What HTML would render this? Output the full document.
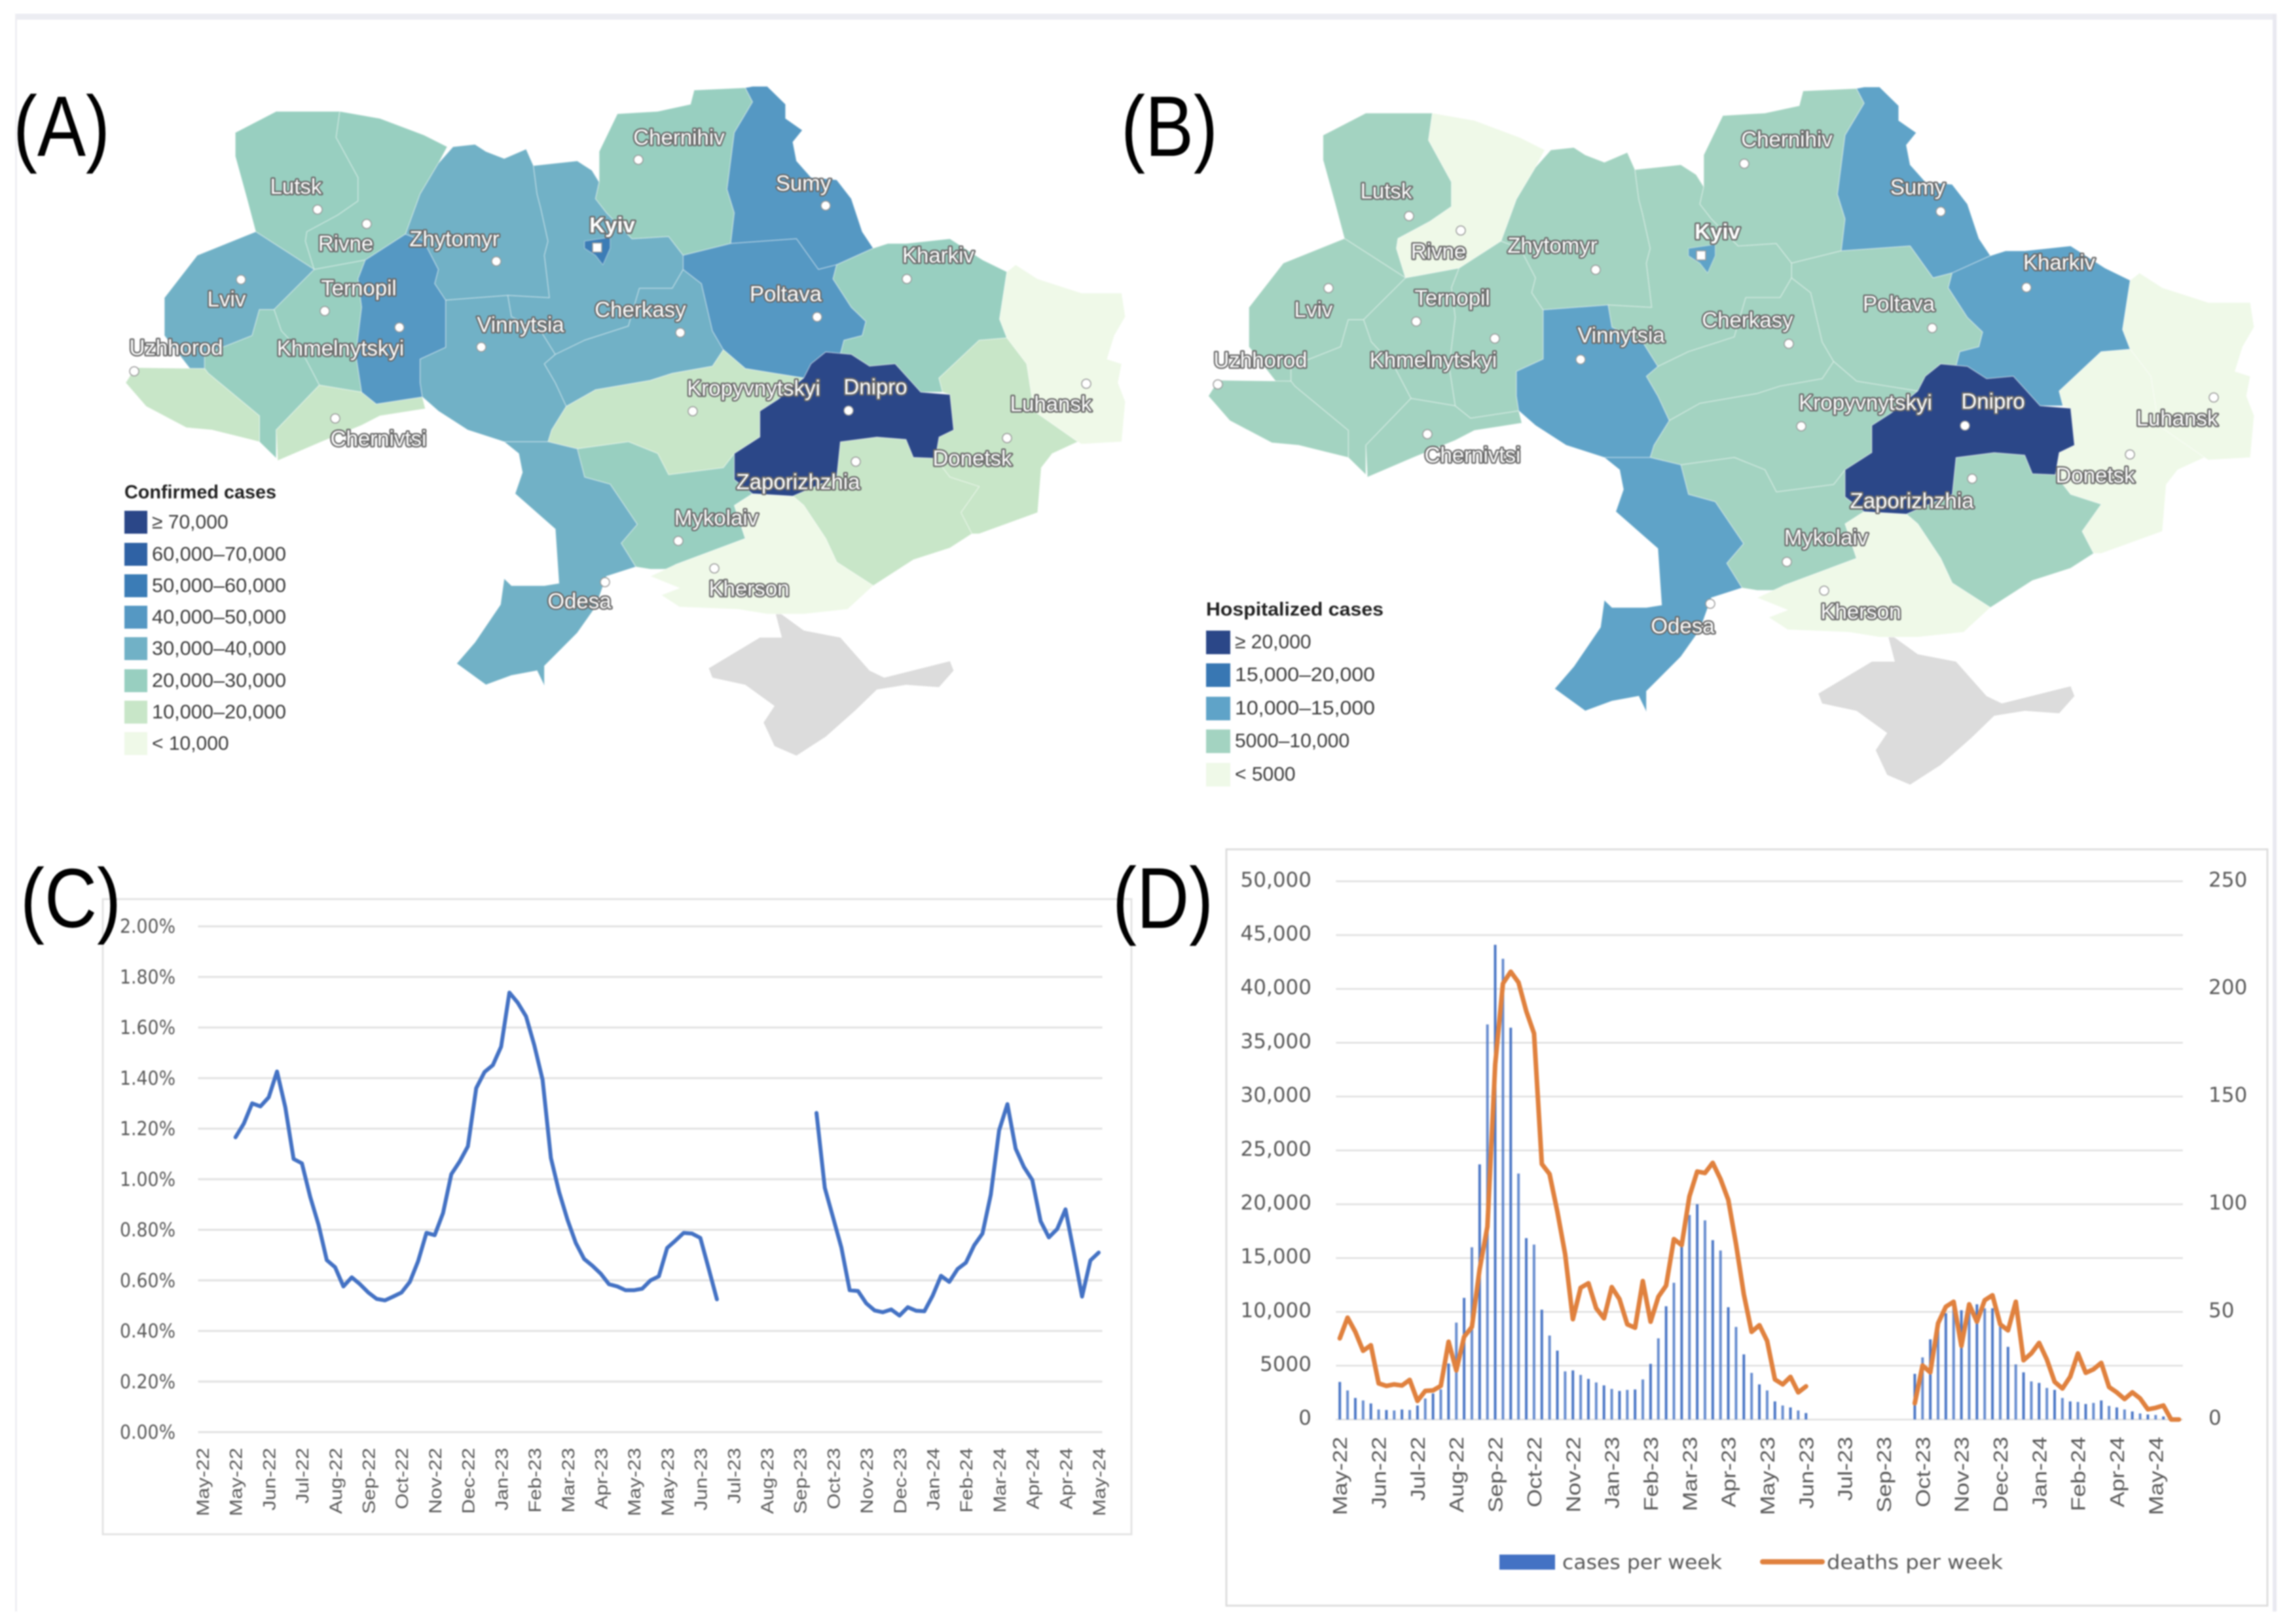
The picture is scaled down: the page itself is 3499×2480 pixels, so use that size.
<!DOCTYPE html>
<html lang="en">
<head>
<meta charset="utf-8">
<title>Ukraine COVID-19 maps and weekly charts</title>
<style>
html,body{margin:0;padding:0;background:#fff}
svg{display:block;filter:blur(1px)}
text{font-family:"Liberation Sans",sans-serif}
.panel{font-size:111px;fill:#000}
.mapl{font-size:33px;fill:#fff;stroke:#6a6a6a;stroke-width:4.5px;paint-order:stroke;text-anchor:middle;stroke-linejoin:round}
.dot{fill:#fff;stroke:#9a9a9a;stroke-width:1.5}
.lt{font-size:30px;fill:#3c3c3c}
.lh{font-size:29px;font-weight:bold;fill:#222}
.wide{font-family:"DejaVu Sans",sans-serif;fill:#595959}
</style>
</head>
<body>
<svg id="figure" xmlns="http://www.w3.org/2000/svg" width="3499" height="2480" viewBox="0 0 3499 2480">
<rect width="3499" height="2480" fill="#fff"/>
<rect x="23" y="21" width="3454" height="9" fill="#ecedf2"/>
<rect x="23" y="21" width="3" height="2440" fill="#eeeef3"/>
<rect x="3471" y="21" width="6" height="2440" fill="#e9e9f0"/>

<g id="map-a">
<g id="map-a-regions" transform="matrix(1.116 0 0 .7207 0 80)"></g>
<g>
<circle class="dot" cx="975" cy="244" r="7"/>
<circle class="dot" cx="1261" cy="314" r="7"/>
<circle class="dot" cx="485" cy="320" r="7"/>
<circle class="dot" cx="560" cy="342" r="7"/>
<circle class="dot" cx="758" cy="399" r="7"/>
<rect class="dot" x="905" y="371" width="14" height="14"/>
<circle class="dot" cx="1385" cy="426" r="7"/>
<circle class="dot" cx="496" cy="475" r="7"/>
<circle class="dot" cx="368" cy="427" r="7"/>
<circle class="dot" cx="1248" cy="484" r="7"/>
<circle class="dot" cx="1039" cy="508" r="7"/>
<circle class="dot" cx="735" cy="530" r="7"/>
<circle class="dot" cx="610" cy="500" r="7"/>
<circle class="dot" cx="205" cy="567" r="7"/>
<circle class="dot" cx="1058" cy="628" r="7"/>
<circle class="dot" cx="1296" cy="627" r="7"/>
<circle class="dot" cx="1659" cy="586" r="7"/>
<circle class="dot" cx="512" cy="639" r="7"/>
<circle class="dot" cx="1538" cy="669" r="7"/>
<circle class="dot" cx="1307" cy="705" r="7"/>
<circle class="dot" cx="1036" cy="826" r="7"/>
<circle class="dot" cx="1091" cy="868" r="7"/>
<circle class="dot" cx="924" cy="889" r="7"/>
</g>
<g>
<text class="mapl" x="1037" y="221">Chernihiv</text>
<text class="mapl" x="1227" y="291">Sumy</text>
<text class="mapl" x="452" y="296">Lutsk</text>
<text class="mapl" x="528" y="383">Rivne</text>
<text class="mapl" x="694" y="376">Zhytomyr</text>
<text class="mapl" x="935" y="355" font-weight="bold">Kyiv</text>
<text class="mapl" x="1433" y="401">Kharkiv</text>
<text class="mapl" x="548" y="451">Ternopil</text>
<text class="mapl" x="346" y="468">Lviv</text>
<text class="mapl" x="1200" y="460">Poltava</text>
<text class="mapl" x="978" y="484">Cherkasy</text>
<text class="mapl" x="795" y="507">Vinnytsia</text>
<text class="mapl" x="520" y="543">Khmelnytskyi</text>
<text class="mapl" x="269" y="542">Uzhhorod</text>
<text class="mapl" x="1151" y="604">Kropyvnytskyi</text>
<text class="mapl" x="1337" y="602">Dnipro</text>
<text class="mapl" x="1605" y="628">Luhansk</text>
<text class="mapl" x="578" y="681">Chernivtsi</text>
<text class="mapl" x="1485" y="711">Donetsk</text>
<text class="mapl" x="1219" y="747">Zaporizhzhia</text>
<text class="mapl" x="1094" y="802">Mykolaiv</text>
<text class="mapl" x="1144" y="910">Kherson</text>
<text class="mapl" x="885" y="929">Odesa</text>
</g>
<g>
<text class="lh" x="190" y="761" textLength="232" lengthAdjust="spacingAndGlyphs">Confirmed cases</text>
<rect x="190" y="780" width="35" height="35" fill="#2b4788"/>
<text class="lt" x="232" y="807">≥ 70,000</text>
<rect x="190" y="829" width="35" height="35" fill="#2f62a5"/>
<text class="lt" x="232" y="856" textLength="205" lengthAdjust="spacingAndGlyphs">60,000–70,000</text>
<rect x="190" y="877" width="35" height="35" fill="#3b7cb6"/>
<text class="lt" x="232" y="904" textLength="205" lengthAdjust="spacingAndGlyphs">50,000–60,000</text>
<rect x="190" y="925" width="35" height="35" fill="#5598c3"/>
<text class="lt" x="232" y="952" textLength="205" lengthAdjust="spacingAndGlyphs">40,000–50,000</text>
<rect x="190" y="973" width="35" height="35" fill="#71b1c6"/>
<text class="lt" x="232" y="1000" textLength="205" lengthAdjust="spacingAndGlyphs">30,000–40,000</text>
<rect x="190" y="1022" width="35" height="35" fill="#98cfc0"/>
<text class="lt" x="232" y="1049" textLength="205" lengthAdjust="spacingAndGlyphs">20,000–30,000</text>
<rect x="190" y="1070" width="35" height="35" fill="#c8e6c8"/>
<text class="lt" x="232" y="1097" textLength="205" lengthAdjust="spacingAndGlyphs">10,000–20,000</text>
<rect x="190" y="1118" width="35" height="35" fill="#eff9e8"/>
<text class="lt" x="232" y="1145">&lt; 10,000</text>
</g>
</g>

<g id="map-b">
<g id="map-b-regions" transform="matrix(1.1674 0 0 .7513 1644.8 78.8)"></g>
<g>
<circle class="dot" cx="2664" cy="250" r="7"/>
<circle class="dot" cx="2964" cy="323" r="7"/>
<circle class="dot" cx="2152" cy="330" r="7"/>
<circle class="dot" cx="2231" cy="352" r="7"/>
<circle class="dot" cx="2437" cy="412" r="7"/>
<rect class="dot" x="2591" y="383" width="14" height="14"/>
<circle class="dot" cx="3095" cy="439" r="7"/>
<circle class="dot" cx="2163" cy="491" r="7"/>
<circle class="dot" cx="2029" cy="440" r="7"/>
<circle class="dot" cx="2951" cy="501" r="7"/>
<circle class="dot" cx="2732" cy="525" r="7"/>
<circle class="dot" cx="2414" cy="549" r="7"/>
<circle class="dot" cx="2283" cy="517" r="7"/>
<circle class="dot" cx="1860" cy="587" r="7"/>
<circle class="dot" cx="2751" cy="651" r="7"/>
<circle class="dot" cx="3001" cy="650" r="7"/>
<circle class="dot" cx="3381" cy="607" r="7"/>
<circle class="dot" cx="2180" cy="663" r="7"/>
<circle class="dot" cx="3253" cy="694" r="7"/>
<circle class="dot" cx="3012" cy="731" r="7"/>
<circle class="dot" cx="2729" cy="858" r="7"/>
<circle class="dot" cx="2786" cy="902" r="7"/>
<circle class="dot" cx="2612" cy="922" r="7"/>
</g>
<g>
<text class="mapl" x="2729" y="224">Chernihiv</text>
<text class="mapl" x="2929" y="297">Sumy</text>
<text class="mapl" x="2117" y="303">Lutsk</text>
<text class="mapl" x="2197" y="395">Rivne</text>
<text class="mapl" x="2371" y="386">Zhytomyr</text>
<text class="mapl" x="2623" y="365" font-weight="bold">Kyiv</text>
<text class="mapl" x="3145" y="412">Kharkiv</text>
<text class="mapl" x="2218" y="466">Ternopil</text>
<text class="mapl" x="2006" y="484">Lviv</text>
<text class="mapl" x="2900" y="475">Poltava</text>
<text class="mapl" x="2669" y="500">Cherkasy</text>
<text class="mapl" x="2476" y="523">Vinnytsia</text>
<text class="mapl" x="2189" y="561">Khmelnytskyi</text>
<text class="mapl" x="1925" y="561">Uzhhorod</text>
<text class="mapl" x="2849" y="626">Kropyvnytskyi</text>
<text class="mapl" x="3044" y="624">Dnipro</text>
<text class="mapl" x="3325" y="650">Luhansk</text>
<text class="mapl" x="2249" y="706">Chernivtsi</text>
<text class="mapl" x="3200" y="737">Donetsk</text>
<text class="mapl" x="2920" y="776">Zaporizhzhia</text>
<text class="mapl" x="2789" y="832">Mykolaiv</text>
<text class="mapl" x="2842" y="945">Kherson</text>
<text class="mapl" x="2570" y="967">Odesa</text>
</g>
<g>
<text class="lh" x="1842" y="940" textLength="271" lengthAdjust="spacingAndGlyphs">Hospitalized cases</text>
<rect x="1842" y="963" width="37" height="36" fill="#2b4788"/>
<text class="lt" x="1886" y="990">≥ 20,000</text>
<rect x="1842" y="1013" width="37" height="36" fill="#3877b3"/>
<text class="lt" x="1886" y="1040" textLength="214" lengthAdjust="spacingAndGlyphs">15,000–20,000</text>
<rect x="1842" y="1064" width="37" height="36" fill="#5fa3c8"/>
<text class="lt" x="1886" y="1091" textLength="214" lengthAdjust="spacingAndGlyphs">10,000–15,000</text>
<rect x="1842" y="1114" width="37" height="36" fill="#a3d3c1"/>
<text class="lt" x="1886" y="1141">5000–10,000</text>
<rect x="1842" y="1165" width="37" height="36" fill="#eff9e8"/>
<text class="lt" x="1886" y="1192">&lt; 5000</text>
</g>
</g>

<rect x="157" y="1373" width="1571" height="970" fill="#fff" stroke="#e4e4e4" stroke-width="3"/>
<g id="chart-c"></g>

<rect x="1873" y="1297" width="1590" height="1155" fill="#fff" stroke="#dedede" stroke-width="3"/>
<g id="chart-d"></g>
<g>
<rect x="2290" y="2374" width="85" height="23" fill="#4472c4"/>
<text class="wide" x="2386" y="2396" font-size="30" textLength="244" lengthAdjust="spacingAndGlyphs">cases per week</text>
<line x1="2692" y1="2385" x2="2783" y2="2385" stroke="#e0813e" stroke-width="8" stroke-linecap="round"/>
<text class="wide" x="2790" y="2396" font-size="30" textLength="269" lengthAdjust="spacingAndGlyphs">deaths per week</text>
</g>

<text class="panel" transform="translate(20 238) scale(1 1.18)">(A)</text>
<text class="panel" transform="translate(1712 238) scale(1 1.18)">(B)</text>
<text class="panel" transform="translate(31 1416) scale(1 1.15)">(C)</text>
<text class="panel" transform="translate(1699 1417) scale(1 1.19)">(D)</text>
</svg>

<script>
/* ---------- chart C data ---------- */
const cCategories = ['May-22','May-22','Jun-22','Jul-22','Aug-22','Sep-22','Oct-22','Nov-22','Dec-22','Jan-23','Feb-23','Mar-23','Apr-23','May-23','May-23','Jun-23','Jul-23','Aug-23','Sep-23','Oct-23','Nov-23','Dec-23','Jan-24','Feb-24','Mar-24','Apr-24','Apr-24','May-24'];
const cTickValues = [0,0.2,0.4,0.6,0.8,1,1.2,1.4,1.6,1.8,2];
const cTickLabels = ['0.00%','0.20%','0.40%','0.60%','0.80%','1.00%','1.20%','1.40%','1.60%','1.80%','2.00%'];
const cPositivity = [null,null,null,null,1.166,1.22,1.30,1.288,1.324,1.426,1.284,1.08,1.063,0.93,0.82,0.68,0.652,0.576,0.612,0.585,0.552,0.527,0.521,0.536,0.552,0.594,0.676,0.788,0.779,0.866,1.02,1.07,1.13,1.36,1.424,1.451,1.524,1.738,1.698,1.644,1.53,1.393,1.084,0.948,0.84,0.748,0.685,0.658,0.627,0.585,0.576,0.561,0.561,0.567,0.6,0.616,0.728,0.757,0.788,0.785,0.768,0.648,0.525,null,null,null,null,null,null,null,null,null,null,null,1.262,0.966,0.848,0.73,0.561,0.558,0.509,0.481,0.474,0.485,0.461,0.494,0.48,0.478,0.54,0.618,0.594,0.645,0.67,0.739,0.785,0.939,1.193,1.297,1.121,1.048,0.997,0.834,0.77,0.803,0.881,0.712,0.536,0.679,0.71];

/* ---------- chart D data ---------- */
const dCategories = ['May-22','Jun-22','Jul-22','Aug-22','Sep-22','Oct-22','Nov-22','Jan-23','Feb-23','Mar-23','Apr-23','May-23','Jun-23','Jul-23','Sep-23','Oct-23','Nov-23','Dec-23','Jan-24','Feb-24','Apr-24','May-24'];
const dLeftTicks = [0,5000,10000,15000,20000,25000,30000,35000,40000,45000,50000];
const dLeftLabels = ['0','5000','10,000','15,000','20,000','25,000','30,000','35,000','40,000','45,000','50,000'];
const dRightTicks = [0,50,100,150,200,250];
const dRightLabels = ['0','50','100','150','200','250'];
const dCases = [3490,2700,2000,1770,1490,930,880,840,930,880,1300,1950,2420,2800,5200,9000,11300,16000,23700,36700,44100,42800,36400,22850,16850,16250,10200,7800,6400,4470,4560,4140,3770,3440,3170,2840,2650,2750,2790,3720,5170,7540,10520,12700,16060,19000,20000,18500,16660,15700,10430,8600,6050,4330,3260,2700,1680,1300,1120,840,600,0,0,0,0,0,0,0,0,0,0,0,0,0,4240,5770,7450,8850,9870,10470,10150,10000,10700,10330,10330,8750,6750,5120,4380,3540,3400,2930,2750,2000,1680,1630,1440,1540,1770,1260,1120,930,745,560,465,420,280,0,0];
const dDeaths = [37.7,47.3,40.7,31.9,34.5,16.8,15.6,16.3,15.8,18.4,8.6,13.3,13.5,15.6,36.1,22.8,38.4,43,69.8,89.6,165,202.5,208,203,189.7,179.3,118.7,114,96.6,76.8,46.6,61.2,63.3,51.7,47,61.5,55.9,44.2,42.6,64.3,45.4,57,62.2,83.8,81,103.6,115.2,114.5,119.2,111.7,102,81.5,58.2,40.7,43.8,36.5,18.6,16.3,19.8,12.6,15.4,null,null,null,null,null,null,null,null,null,null,null,null,null,7.5,25.1,21.9,44.7,52.4,54.7,34.2,53.5,45.4,55.4,57.7,44.2,41.4,54.7,27.5,30.7,35.6,27.9,17.5,14.4,19.8,30.7,21.7,23.3,26.3,15.1,12.6,9.5,12.6,9.8,4.7,5.4,6.5,0,0];

/* ---------- map data (estimated from legend bins) ---------- */
const confirmedCases = {lutsk:25000,rivne:25000,lviv:35000,ternopil:25000,ivanofrankivsk:25000,uzhhorod:15000,chernivtsi:15000,khmelnytskyi:45000,zhytomyr:35000,vinnytsia:35000,kyivoblast:35000,cherkasy:35000,chernihiv:25000,sumy:45000,poltava:45000,kharkiv:25000,luhansk:5000,donetsk:15000,zaporizhzhia:15000,dnipro:75000,kropyvnytskyi:15000,mykolaiv:25000,kherson:5000,odesa:35000,kyivcity:55000};
const hospitalizedCases = {lutsk:7500,rivne:3000,lviv:7500,ternopil:7500,ivanofrankivsk:7500,uzhhorod:7500,chernivtsi:7500,khmelnytskyi:7500,zhytomyr:7500,vinnytsia:12000,kyivoblast:7500,cherkasy:7500,chernihiv:7500,sumy:12000,poltava:7500,kharkiv:12000,luhansk:3000,donetsk:3000,zaporizhzhia:7500,dnipro:22000,kropyvnytskyi:7500,mykolaiv:7500,kherson:3000,odesa:12000,kyivcity:12000};
const confirmedBins = [10000,20000,30000,40000,50000,60000,70000];
const confirmedColors = ['#eff9e8','#c8e6c8','#98cfc0','#71b1c6','#5598c3','#3b7cb6','#2f62a5','#2b4788'];
const hospitalizedBins = [5000,10000,15000,20000];
const hospitalizedColors = ['#eff9e8','#a3d3c1','#5fa3c8','#3877b3','#2b4788'];

/* region outlines (map geometry, shared by both maps) */
const regionShapes = {
lutsk:'322,170 378,125 465,125 460,180 490,265 490,315 462,345 420,380 418,400 430,460 350,380 338,310 322,220',
rivne:'465,125 520,140 580,175 612,200 600,235 575,300 555,385 500,440 430,460 418,400 420,380 462,345 490,315 490,265 460,180',
lviv:'225,520 270,430 350,380 430,460 375,545 355,545 345,600 280,640 280,670 260,670 225,600',
ternopil:'430,460 500,440 490,480 495,540 487,640 495,720 437,705 415,640 385,590 375,545',
ivanofrankivsk:'280,670 280,640 345,600 355,545 375,545 385,590 415,640 437,705 378,800 378,860 355,825 355,770 285,680',
uzhhorod:'172,700 185,668 280,670 285,680 355,770 355,825 290,800 255,795 200,750',
chernivtsi:'380,865 378,800 437,705 495,720 515,745 578,730 582,755 520,770 495,790 440,825',
khmelnytskyi:'555,385 580,400 600,460 595,490 610,525 610,625 575,650 575,700 578,730 515,745 495,720 487,640 495,540 490,480 500,440',
zhytomyr:'575,300 600,235 620,200 650,195 665,210 690,225 720,205 730,240 735,300 740,330 750,400 745,430 752,520 695,515 610,525 595,490 600,460 580,400 555,385',
vinnytsia:'610,525 695,515 700,560 740,590 760,640 745,660 760,700 775,750 755,800 750,825 690,825 640,800 600,760 578,730 575,700 575,650 610,625',
kyivoblast:'730,240 760,235 790,230 810,250 820,275 815,310 830,340 865,395 915,390 935,430 935,460 920,500 875,500 860,580 800,610 760,640 740,590 700,560 695,515 752,520 745,430 750,400 740,330 735,300',
cherkasy:'935,460 960,490 975,590 990,630 975,665 920,680 890,695 815,715 775,750 760,700 745,660 760,640 800,610 860,580 875,500 920,500',
chernihiv:'820,275 820,210 845,130 900,125 945,110 950,80 1020,75 1030,105 1005,170 995,290 1005,340 1000,405 935,430 915,390 865,395 830,340 815,310',
sumy:'1020,75 1030,72 1050,72 1075,110 1075,140 1098,165 1085,190 1090,230 1110,265 1145,270 1165,310 1180,380 1195,415 1145,450 1120,460 1090,395 1000,405 1005,340 995,290 1005,170 1030,105',
poltava:'935,430 1000,405 1090,395 1120,460 1145,450 1140,480 1165,540 1185,570 1180,600 1155,610 1150,640 1130,635 1110,660 1100,690 1060,680 1020,670 990,630 975,590 960,490 935,460',
kharkiv:'1145,450 1195,415 1215,405 1240,405 1300,395 1345,440 1378,465 1368,565 1378,605 1340,610 1285,690 1290,720 1260,720 1225,660 1190,665 1165,640 1130,635 1150,640 1155,610 1180,600 1185,570 1165,540 1140,480',
luhansk:'1378,465 1390,450 1420,480 1480,510 1535,510 1540,560 1525,600 1515,650 1535,660 1530,700 1540,740 1535,825 1480,830 1475,825 1415,760 1405,660 1378,605 1368,565',
donetsk:'1285,690 1340,610 1378,605 1405,660 1415,760 1475,825 1440,850 1425,880 1420,975 1340,1020 1330,1020 1315,975 1340,920 1300,900 1280,860 1285,815 1305,800 1300,725 1290,720',
zaporizhzhia:'1085,940 1145,900 1150,825 1200,815 1240,820 1250,858 1280,860 1300,900 1340,920 1315,975 1330,1020 1300,1050 1250,1075 1195,1130 1145,1080 1130,1030 1100,960',
kropyvnytskyi:'755,800 775,750 815,715 890,695 920,680 975,665 990,630 1020,670 1060,680 1100,690 1065,735 1040,760 1040,815 1005,850 990,880 915,895 900,850 860,825 790,840 750,825',
mykolaiv:'790,840 860,825 900,850 915,895 990,880 1005,850 1005,905 1030,935 1005,960 1020,1030 925,1085 915,1095 890,1095 870,1090 850,1040 872,1000 835,915 800,900',
kherson:'1030,935 1085,940 1100,960 1130,1030 1145,1080 1195,1130 1160,1180 1100,1190 1050,1190 1010,1180 930,1175 905,1150 930,1135 890,1110 925,1085 1020,1030 1005,960',
odesa:'690,825 750,825 790,840 800,900 835,915 872,1000 850,1040 870,1090 830,1110 815,1175 790,1230 745,1300 745,1342 735,1310 700,1320 665,1340 625,1295 650,1250 685,1170 690,1115 700,1130 745,1130 765,1125 760,1010 705,935 715,890 710,850',
dnipro:'1130,635 1165,640 1190,665 1225,660 1260,720 1300,725 1305,800 1285,815 1280,860 1250,858 1240,820 1200,815 1150,825 1145,900 1085,940 1030,935 1005,905 1005,850 1040,815 1040,760 1065,735 1100,690 1110,660',
kyivcity:'800,400 835,392 835,415 825,450 815,430 800,415'
};
const crimeaShape = '1060,1180 1100,1225 1150,1240 1190,1310 1210,1325 1300,1290 1305,1310 1285,1345 1240,1340 1200,1350 1170,1395 1130,1450 1090,1490 1060,1470 1045,1420 1060,1385 1020,1340 975,1325 970,1305 1040,1240 1070,1240';

const NS = 'http://www.w3.org/2000/svg';
function mk(tag, attrs, parent, txt) {
  const el = document.createElementNS(NS, tag);
  for (const k in attrs) el.setAttribute(k, attrs[k]);
  if (txt !== undefined) el.textContent = txt;
  parent.appendChild(el);
  return el;
}
function binColor(v, bins, colors) {
  let i = 0;
  while (i < bins.length && v >= bins[i]) i++;
  return colors[i];
}
function drawMap(groupId, values, bins, colors) {
  const g = document.getElementById(groupId);
  const crimea = mk('polygon', {points: crimeaShape, fill: '#dcdcdc'}, g);
  
  
  for (const key of Object.keys(regionShapes)) {
    const p = mk('polygon', {points: regionShapes[key], fill: binColor(values[key], bins, colors), stroke: 'rgba(255,255,255,.35)', 'stroke-width': 1.5, 'vector-effect': 'non-scaling-stroke', 'stroke-linejoin': 'round'}, g);
    
    
  }
}
drawMap('map-a-regions', confirmedCases, confirmedBins, confirmedColors);
drawMap('map-b-regions', hospitalizedCases, hospitalizedBins, hospitalizedColors);

function linePath(values, xf, yf) {
  let d = '', pen = false;
  values.forEach((v, i) => {
    if (v === null) { pen = false; return; }
    d += (pen ? 'L' : 'M') + xf(i).toFixed(1) + ' ' + yf(v).toFixed(1);
    pen = true;
  });
  return d;
}

/* ---------- chart C ---------- */
(function () {
  const g = document.getElementById('chart-c');
  const xC = i => 309 + i * (1678 - 309) / 108;
  const yC = v => 2187 - v * 386.2;
  cTickValues.forEach((t, i) => {
    const gl = mk('line', {x1: 302.5, x2: 1683.5, y1: yC(t), y2: yC(t), stroke: '#e2e2e2', 'stroke-width': 3}, g);
    
    
    const tl = mk('text', {x: 268, y: yC(t) + 10, 'text-anchor': 'end', 'font-size': 29, textLength: 85, lengthAdjust: 'spacingAndGlyphs', class: 'wide'}, g, cTickLabels[i]);
    
    
  });
  cCategories.forEach((c, i) => {
    const tl = mk('text', {transform: 'translate(' + xC(i * 4) + ' 2211) rotate(-90) scale(1.16 1)', y: 10, 'text-anchor': 'end', 'font-size': 27, fill: '#595959'}, g, c);
    
    
  });
  const ln = mk('path', {d: linePath(cPositivity, xC, yC), fill: 'none', stroke: '#4472c4', 'stroke-width': 6, 'stroke-linejoin': 'round', 'stroke-linecap': 'round'}, g);
  
  
})();

/* ---------- chart D ---------- */
(function () {
  const g = document.getElementById('chart-d');
  const xD = i => 2040.3 + (i + 0.5) * (3333.8 - 2040.3) / 109;
  const yL = v => 2167.7 - v * 821.9 / 50000;
  const yR = v => 2167.7 - v * 821.9 / 250;
  dLeftTicks.forEach((t, i) => {
    const gl = mk('line', {x1: 2040.3, x2: 3333.8, y1: yL(t), y2: yL(t), stroke: '#e0e0e0', 'stroke-width': 2.5}, g);
    
    
    const tl = mk('text', {x: 2003, y: yL(t) + 8, 'text-anchor': 'end', 'font-size': 31, class: 'wide'}, g, dLeftLabels[i]);
    
    
  });
  dRightTicks.forEach((t, i) => {
    const tl = mk('text', {x: 3373, y: yR(t) + 8, 'font-size': 31, class: 'wide'}, g, dRightLabels[i]);
    
    
  });
  dCategories.forEach((c, i) => {
    const tl = mk('text', {transform: 'translate(' + xD(i * 5) + ' 2194) rotate(-90) scale(1.16 1)', y: 11, 'text-anchor': 'end', 'font-size': 31, fill: '#595959'}, g, c);
    
    
  });
  dCases.forEach((v, i) => {
    if (v <= 0) return;
    const b = mk('rect', {x: xD(i) - 2, y: yL(v), width: 4, height: yL(0) - yL(v), fill: '#4472c4', opacity: i % 2 ? 0.8 : 0.95}, g);
    
    
  });
  const ln = mk('path', {d: linePath(dDeaths, xD, yR), fill: 'none', stroke: '#e0813e', 'stroke-width': 7, 'stroke-linejoin': 'round', 'stroke-linecap': 'round'}, g);
  
  
})();
</script>
</body>
</html>
